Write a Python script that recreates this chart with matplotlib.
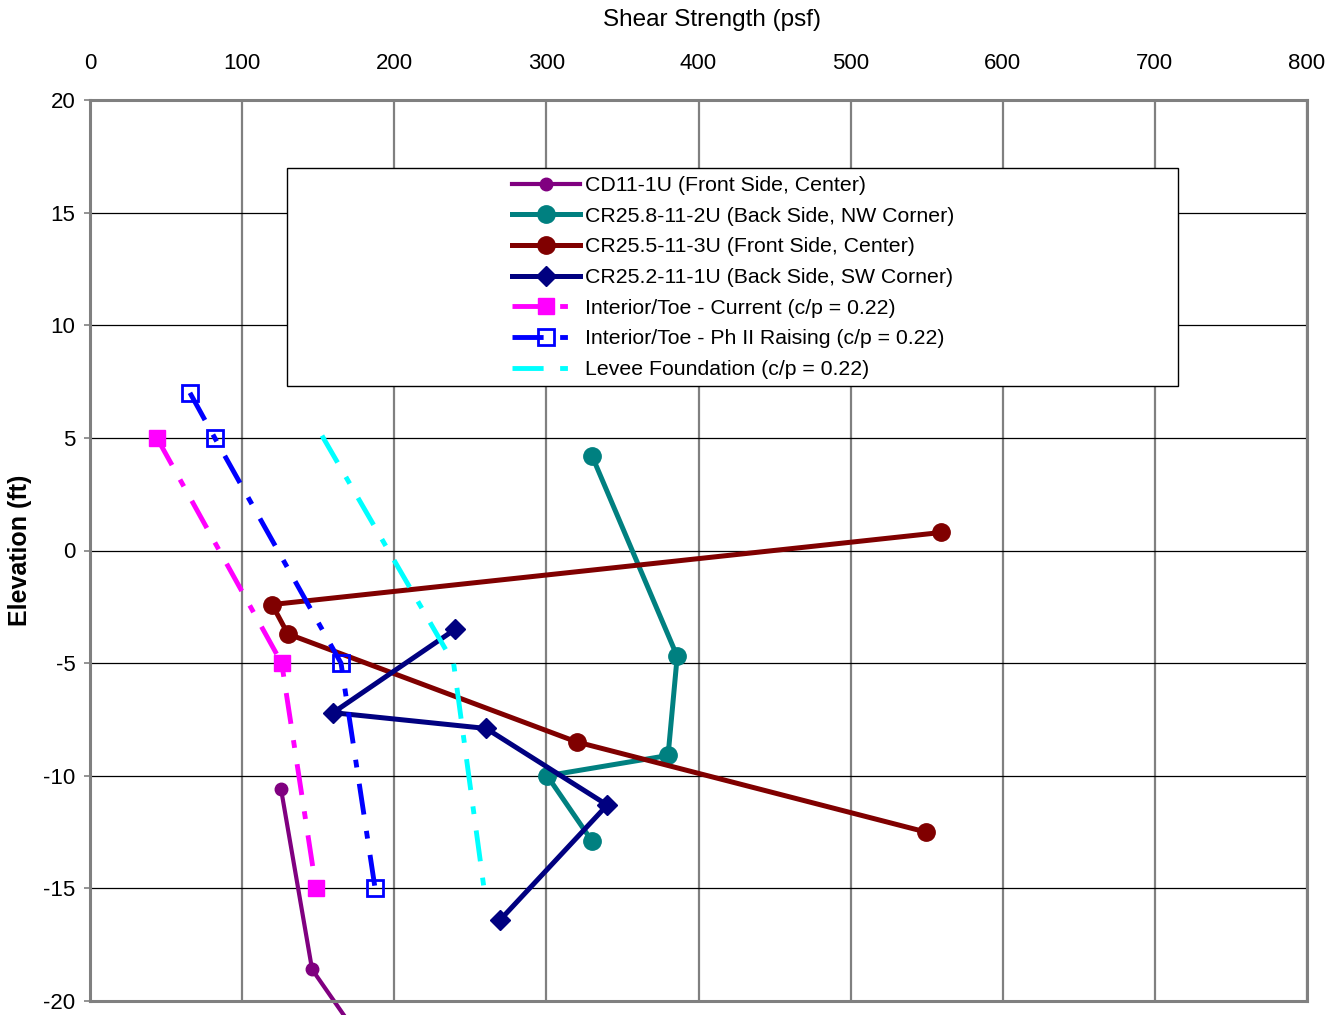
import matplotlib
matplotlib.use("Agg")
import matplotlib.pyplot as plt
from matplotlib.patches import Rectangle

plt.rcParams['font.family'] = ['Liberation Sans Narrow', 'Liberation Sans', 'DejaVu Sans']
plt.rcParams['axes.unicode_minus'] = False

# Shear strength (psf) vs. elevation (ft) for each boring / design line
cd11_strength = [125.6, 146, 181]
cd11_elev = [-10.6, -18.6, -22.0]

cr258_strength = [330, 386, 380, 300.5, 330]
cr258_elev = [4.2, -4.7, -9.1, -10.0, -12.9]

cr255_strength = [559.5, 119.7, 130, 320, 549.6]
cr255_elev = [0.8, -2.4, -3.7, -8.5, -12.5]

cr252_strength = [240, 159.8, 260.4, 340, 269.6]
cr252_elev = [-3.5, -7.2, -7.9, -11.3, -16.4]

toe_current_strength = [44, 126, 148.6]
toe_current_elev = [5, -5, -15]

toe_ph2_strength = [65.7, 82, 165, 187.4]
toe_ph2_elev = [7, 5, -5, -15]

levee_strength = [152.5, 239, 259]
levee_elev = [5.1, -5, -15]

labels = [
    "CD11-1U (Front Side, Center)",
    "CR25.8-11-2U (Back Side, NW Corner)",
    "CR25.5-11-3U (Front Side, Center)",
    "CR25.2-11-1U (Back Side, SW Corner)",
    "Interior/Toe - Current (c/p = 0.22)",
    "Interior/Toe - Ph II Raising (c/p = 0.22)",
    "Levee Foundation (c/p = 0.22)",
]

x_ticks = [0, 100, 200, 300, 400, 500, 600, 700, 800]
y_ticks = [20, 15, 10, 5, 0, -5, -10, -15, -20]

W, H = 1340, 1015
fig = plt.figure(figsize=(W / 100, H / 100), dpi=100)
ax = fig.add_axes([90 / W, 1 - 1001 / H, 1217 / W, 901 / H])

dash = (0, (6.4, 3.4, 1.6, 3.4))

ax.plot(cd11_strength, cd11_elev, color='#800080', lw=3.0, marker='o', ms=9,
        label=labels[0], clip_on=False)
ax.plot(cr258_strength, cr258_elev, color='#008080', lw=3.6, marker='o', ms=12.5,
        label=labels[1])
ax.plot(cr255_strength, cr255_elev, color='#800000', lw=3.6, marker='o', ms=12.5,
        label=labels[2])
ax.plot(cr252_strength, cr252_elev, color='#000080', lw=3.6, marker='D', ms=10.5,
        label=labels[3])
ax.plot(toe_current_strength, toe_current_elev, color='#FF00FF', lw=3.5, ls=dash,
        marker='s', ms=12, label=labels[4])
ax.plot(toe_ph2_strength, toe_ph2_elev, color='#0000FF', lw=3.5, ls=dash,
        marker='s', ms=11, mfc='none', mec='#0000FF', mew=2, label=labels[5])
ax.plot(levee_strength, levee_elev, color='#00FFFF', lw=3.5, ls=dash,
        label=labels[6])

ax.set_xlim(0, 800)
ax.set_ylim(-20, 20)
ax.set_xticks(x_ticks)
ax.set_yticks(y_ticks)
ax.tick_params(axis='x', top=True, labeltop=True, bottom=False, labelbottom=False,
               length=0, pad=19, labelsize=16)
ax.tick_params(axis='y', direction='out', length=4.5, width=1.2, color='#808080',
               pad=6, labelsize=16)

ax.grid(axis='y', color='black', lw=0.9)
ax.grid(axis='x', color='#808080', lw=1.6)
ax.set_axisbelow(True)
for s in ax.spines.values():
    s.set_color('#808080')
    s.set_linewidth(2.2)

# Legend box
ax.add_patch(Rectangle(((287 - 90) / 1217, (1001 - 386) / 901),
                       (1178 - 287) / 1217, (386 - 168) / 901,
                       transform=ax.transAxes, facecolor='white',
                       edgecolor='black', lw=1.0, zorder=1.5))
ax.legend(loc='upper left', bbox_to_anchor=((512 - 90) / 1217, (1001 - 176) / 901),
          frameon=False, fontsize=15.3, handlelength=3.2, handletextpad=0.22,
          borderpad=0, borderaxespad=0, labelspacing=0.55)

fig.text(712 / W, 1 - 20 / H, "Shear Strength (psf)", ha='center', va='center',
         fontsize=17.5)
fig.text(20 / W, 1 - 550 / H, "Elevation (ft)", ha='center', va='center',
         rotation=90, fontsize=18, fontweight='bold')

fig.savefig("out.png", dpi=100)
